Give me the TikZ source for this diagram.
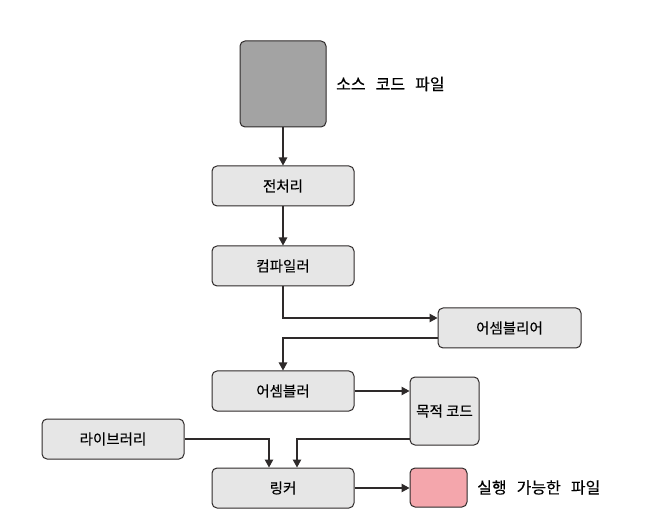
\documentclass[tikz,border=0pt]{standalone}
\usepackage{fontspec}
\setmainfont{Noto Sans CJK KR}[FakeBold=0.3]
\newfontfamily\lblfont{Noto Sans CJK KR}[WordSpace=2.8,FakeBold=0.3]
\usetikzlibrary{arrows.meta}
\definecolor{edgec}{HTML}{2E2A2A}
\definecolor{boxfill}{HTML}{E6E6E6}
\definecolor{srcfill}{HTML}{A3A3A3}
\definecolor{exefill}{HTML}{F4A6AC}
\tikzset{
  box/.style={draw=edgec, line width=1pt, rounded corners=5pt, fill=boxfill,
    minimum width=142pt, minimum height=40pt, inner sep=0pt, font=\fontsize{14.5}{16}\selectfont},
  lbl/.style={anchor=west, inner sep=0pt, font=\lblfont\fontsize{16}{18}\selectfont},
  conn/.style={draw=edgec, line width=1.1pt, -{Triangle[length=8pt,width=8.5pt]}},
}
\begin{document}
\begin{tikzpicture}[x=1pt,y=-1pt]
\useasboundingbox (0,0) rectangle (653,510);
\node[box, fill=srcfill, minimum width=86pt, minimum height=86pt] (src) at (283,84) {};
\node[lbl] (srcl) at (336,84) {소스 코드 파일};
\node[box] (pre) at (283,186) {전처리};
\node[box] (comp) at (283,266) {컴파일러};
\node[box, minimum width=143pt] (asml) at (509.5,328) {어셈블리어};
\node[box] (asm) at (283,391) {어셈블러};
\node[box, minimum width=69pt, minimum height=68pt] (obj) at (444.5,411) {목적 코드};
\node[box] (lib) at (113,439) {라이브러리};
\node[box] (link) at (283,488) {링커};
\node[box, fill=exefill, minimum width=57pt, minimum height=39pt] (exe) at (438.5,487.5) {};
\node[lbl] (exel) at (477,487.5) {실행 가능한 파일};

\draw[conn] (src.south) -- (pre.north);
\draw[conn] (pre.south) -- (comp.north);
\draw[conn] (comp.south) |- ([yshift=10pt]asml.west);
\draw[conn] ([yshift=-10pt]asml.west) -| (asm.north);
\draw[conn] (asm.east) -- (asm.east -| obj.west);
\draw[conn] ([yshift=-28pt]obj.west) -| ([xshift=14pt]link.north);
\draw[conn] (lib.east) -| ([xshift=-14pt]link.north);
\draw[conn] (link.east) -- (link.east -| exe.west);
\end{tikzpicture}
\end{document}
